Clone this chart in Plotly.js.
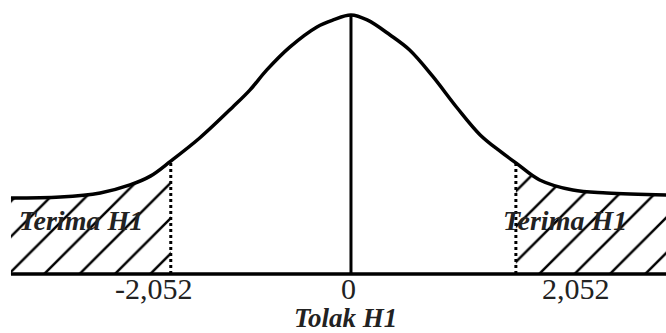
<!DOCTYPE html>
<html>
<head>
<meta charset="utf-8">
<script src="https://cdn.plot.ly/plotly-3.0.1.min.js"></script>
<style>html,body{margin:0;padding:0;background:#fff;}#chart{width:666px;height:333px;}</style>
</head>
<body>
<div id="chart"></div>
<script>
// Curve (sketch units: x = z-like position, y = relative height, peak = 1)
var curveX = [-4.00, -3.42, -2.95, -2.60, -2.36, -2.12, -1.78, -1.39, -1.19, -0.99, -0.72, -0.40, -0.21, 0.00,
              0.19, 0.46, 0.69, 0.96, 1.25, 1.52, 1.75, 1.94, 2.22, 2.61, 3.01, 3.71];
var curveY = [0.293, 0.297, 0.313, 0.344, 0.378, 0.436, 0.525, 0.645, 0.710, 0.788, 0.876, 0.954, 0.981, 1.000,
              0.981, 0.923, 0.865, 0.764, 0.641, 0.537, 0.475, 0.429, 0.363, 0.324, 0.313, 0.305];
// Critical-value lines (positions as drawn) and their labels
var critX = [-2.12, 1.94];
var tickLabels = ['-2,052', '0', '2,052'];
var regionLabels = ['Terima H1', 'Terima H1', 'Tolak H1'];

function yAt(x) {
  var i = curveX.indexOf(x);
  return curveY[i];
}

var leftX = [], leftY = [], rightX = [], rightY = [];
for (var i = 0; i < curveX.length; i++) {
  if (curveX[i] <= critX[0]) { leftX.push(curveX[i]); leftY.push(curveY[i]); }
  if (curveX[i] >= critX[1]) { rightX.push(curveX[i]); rightY.push(curveY[i]); }
}

var pattern = {shape: '/', size: 25, solidity: 0.1, fgcolor: '#000', bgcolor: '#fff', fillmode: 'replace'};

var traces = [
  {x: leftX, y: leftY, type: 'scatter', mode: 'none', fill: 'tozeroy', fillcolor: '#fff',
   line: {shape: 'spline'}, fillpattern: pattern, hoverinfo: 'skip'},
  {x: rightX, y: rightY, type: 'scatter', mode: 'none', fill: 'tozeroy', fillcolor: '#fff',
   line: {shape: 'spline'}, fillpattern: pattern, hoverinfo: 'skip'},
  {x: curveX, y: curveY, type: 'scatter', mode: 'lines',
   line: {color: '#000', width: 3.5, shape: 'spline', smoothing: 1}, hoverinfo: 'skip'},
  {x: [curveX[0], curveX[curveX.length - 1]], y: [0, 0], type: 'scatter', mode: 'lines',
   line: {color: '#000', width: 3.5}, hoverinfo: 'skip'},
  {x: [0, 0], y: [0, yAt(0)], type: 'scatter', mode: 'lines',
   line: {color: '#000', width: 3}, hoverinfo: 'skip'},
  {x: [critX[0], critX[0]], y: [0, yAt(critX[0])], type: 'scatter', mode: 'lines',
   line: {color: '#000', width: 3, dash: 'dot'}, hoverinfo: 'skip'},
  {x: [critX[1], critX[1]], y: [0, yAt(critX[1])], type: 'scatter', mode: 'lines',
   line: {color: '#000', width: 3, dash: 'dot'}, hoverinfo: 'skip'}
];

var numFont = {family: '"Liberation Serif"', size: 30, color: '#222'};
var boldFont = {family: '"Liberation Serif"', size: 28, color: '#222'};
var bottomFont = {family: '"Liberation Serif"', size: 27, color: '#222'};

var layout = {
  width: 666, height: 333,
  margin: {l: 0, r: 0, t: 0, b: 0},
  paper_bgcolor: '#fff', plot_bgcolor: '#fff',
  showlegend: false,
  xaxis: {visible: false, range: [-4.129, 3.706], fixedrange: true},
  yaxis: {visible: false, range: [-0.2278, 1.058], fixedrange: true},
  annotations: [
    {x: -2.32, y: -0.055, xref: 'x', yref: 'y', text: tickLabels[0], showarrow: false, font: numFont},
    {x: -0.035, y: -0.055, xref: 'x', yref: 'y', text: tickLabels[1], showarrow: false, font: numFont},
    {x: 2.65, y: -0.055, xref: 'x', yref: 'y', text: tickLabels[2], showarrow: false, font: numFont},
    {x: -3.176, y: 0.208, xref: 'x', yref: 'y', text: '<b><i>' + regionLabels[0] + '</i></b>', showarrow: false, font: boldFont},
    {x: 2.518, y: 0.208, xref: 'x', yref: 'y', text: '<b><i>' + regionLabels[1] + '</i></b>', showarrow: false, font: boldFont},
    {x: -0.059, y: -0.2278, xref: 'x', yref: 'y', yanchor: 'bottom', borderpad: 0, borderwidth: 0,
     text: '<b><i>' + regionLabels[2] + '</i></b>', showarrow: false, font: bottomFont}
  ]
};

Plotly.newPlot('chart', traces, layout, {displayModeBar: false, staticPlot: true});
</script>
</body>
</html>
